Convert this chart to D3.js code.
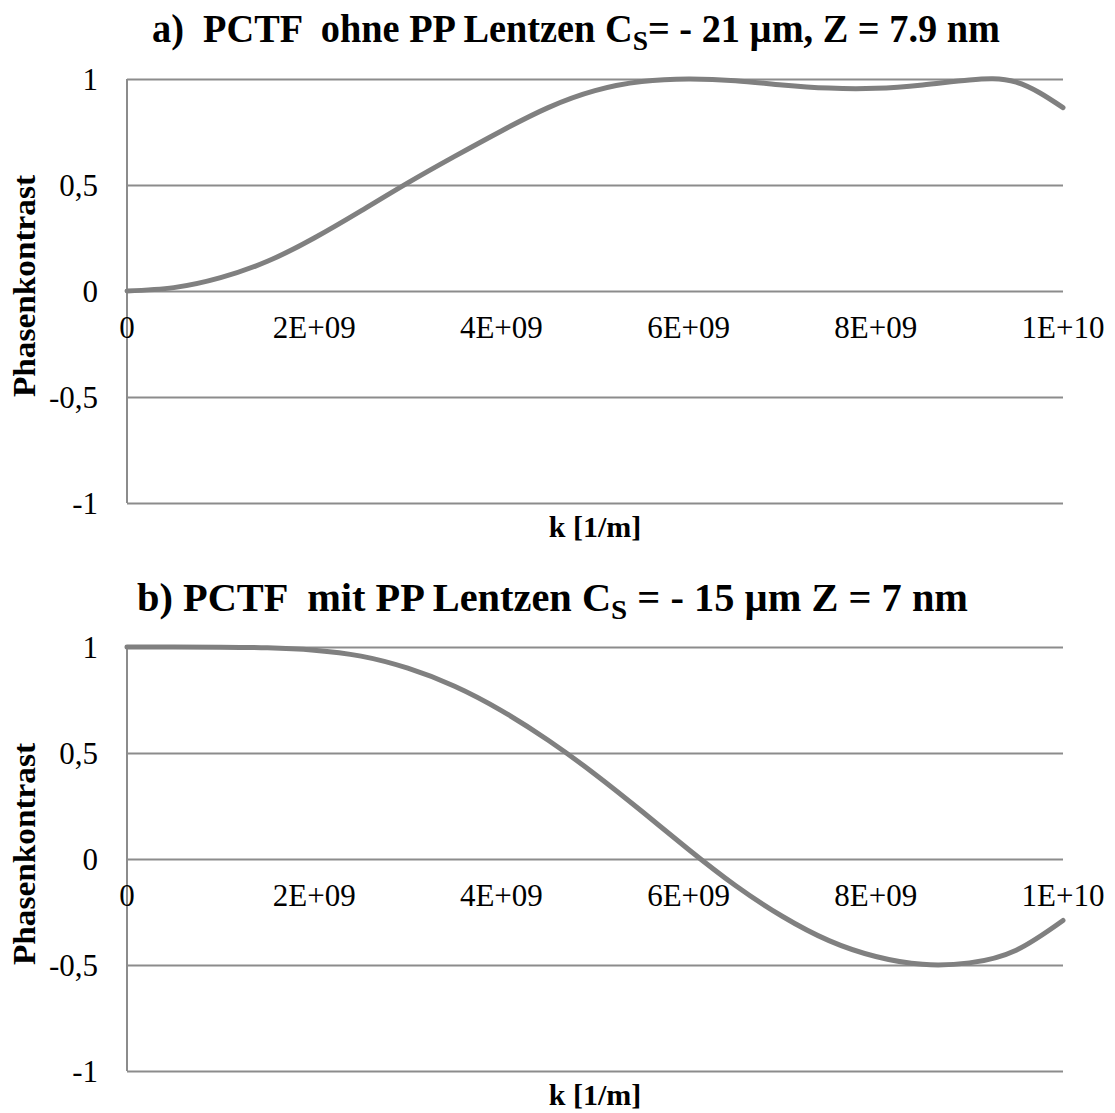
<!DOCTYPE html>
<html>
<head>
<meta charset="utf-8">
<script src="https://cdn.jsdelivr.net/npm/d3@7"></script>
<style>
  html, body { margin: 0; padding: 0; background: #fff; }
  svg { display: block; }
  text { font-family: "Liberation Serif", "Times New Roman", serif; fill: #000; white-space: pre; }
</style>
</head>
<body>
<svg id="chart" width="1115" height="1113"></svg>
<script>
// ---- data (k in units of 1E+09 1/m) ----
const kValues = [0, 0.5, 1, 1.5, 2, 2.5, 3, 3.5, 4, 4.5, 5, 5.5, 6, 6.5, 7, 7.5, 8, 8.5, 9, 9.5, 10];
const pctfA   = [0, 0.016, 0.063, 0.14, 0.25, 0.378, 0.51, 0.635, 0.755, 0.865, 0.945, 0.988, 1.0, 0.992, 0.972, 0.957, 0.956, 0.972, 0.995, 0.985, 0.865];
const pctfB   = [1.0, 1.0, 0.999, 0.996, 0.985, 0.957, 0.90, 0.815, 0.70, 0.56, 0.40, 0.225, 0.045, -0.125, -0.27, -0.385, -0.46, -0.497, -0.49, -0.43, -0.29];
const yTicks  = [-1, -0.5, 0, 0.5, 1];
const yTickLabels = ["-1", "-0,5", "0", "0,5", "1"];
const xTickValues = [0, 2, 4, 6, 8, 10];
const xTickLabels = ["0", "2E+09", "4E+09", "6E+09", "8E+09", "1E+10"];

const panels = [
  { id: "a", top: 79, values: pctfA,
    title: ["a)  PCTF  ohne PP Lentzen C", "S", "= - 21 µm, Z = 7.9 nm"],
    titleX: 152, titleLen: 848, titleY: 42 },
  { id: "b", top: 647, values: pctfB,
    title: ["b) PCTF  mit PP Lentzen C", "S", " = - 15 µm Z = 7 nm"],
    titleX: 137, titleLen: 831, titleY: 611 }
];

const svg = d3.select("#chart");
const left = 127, right = 1063, plotH = 424;
const gridColor = "#8c8c8c";
const lineColor = "#808080";

panels.forEach(p => {
  const x = d3.scaleLinear().domain([0, 10]).range([left, right]);
  const y = d3.scaleLinear().domain([-1, 1]).range([p.top + plotH, p.top]);
  const g = svg.append("g");

  // title
  const t = g.append("text")
    .attr("x", p.titleX).attr("y", p.titleY)
    .attr("font-size", 39).attr("font-weight", "bold")
    .attr("textLength", p.titleLen).attr("lengthAdjust", "spacingAndGlyphs");
  t.append("tspan").text(p.title[0]);
  t.append("tspan").attr("font-size", 28).attr("dy", 8).text(p.title[1]);
  t.append("tspan").attr("dy", -8).text(p.title[2]);

  // horizontal gridlines via axis
  const yAxis = d3.axisLeft(y).tickValues(yTicks)
    .tickSize(-(right - left)).tickFormat("");
  const ga = g.append("g").attr("transform", `translate(${left},0)`).call(yAxis);
  ga.select(".domain").remove();
  ga.selectAll(".tick line").attr("stroke", gridColor).attr("stroke-width", 2);

  // vertical axis line
  g.append("line").attr("x1", left).attr("x2", left)
    .attr("y1", y(1)).attr("y2", y(-1))
    .attr("stroke", gridColor).attr("stroke-width", 2);

  // y tick labels
  g.selectAll(".ylab").data(yTicks).join("text")
    .attr("x", 98).attr("y", d => y(d)).attr("dy", "0.35em")
    .attr("text-anchor", "end").attr("font-size", 31)
    .text((d, i) => yTickLabels[i]);

  // x tick labels (at zero line)
  g.selectAll(".xlab").data(xTickValues).join("text")
    .attr("x", d => x(d)).attr("y", y(0) + 47)
    .attr("text-anchor", "middle").attr("font-size", 31)
    .text((d, i) => xTickLabels[i]);

  // axis titles
  g.append("text")
    .attr("transform", `translate(35,${y(0) - 5}) rotate(-90)`)
    .attr("text-anchor", "middle").attr("font-size", 31).attr("font-weight", "bold")
    .attr("textLength", 222).attr("lengthAdjust", "spacingAndGlyphs")
    .text("Phasenkontrast");
  g.append("text")
    .attr("x", (left + right) / 2).attr("y", y(-1) + 34)
    .attr("text-anchor", "middle").attr("font-size", 30).attr("font-weight", "bold")
    .text("k [1/m]");

  // curve
  const line = d3.line()
    .x((d, i) => x(kValues[i]))
    .y(d => y(d))
    .curve(d3.curveNatural);
  g.append("path").datum(p.values)
    .attr("d", line)
    .attr("fill", "none").attr("stroke", lineColor)
    .attr("stroke-width", 5).attr("stroke-linecap", "round");
});
</script>
</body>
</html>
